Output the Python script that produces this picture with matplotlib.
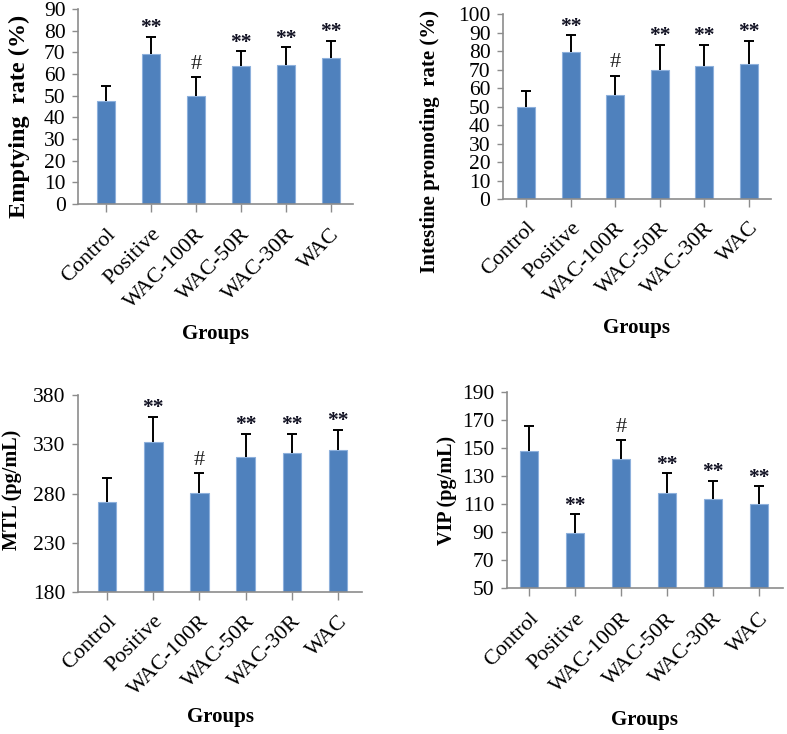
import matplotlib
matplotlib.use("Agg")
import matplotlib.pyplot as plt

plt.rcParams['font.family'] = ['Liberation Serif', 'DejaVu Serif']

categories = ["Control", "Positive", "WAC-100R", "WAC-50R", "WAC-30R", "WAC"]

emptying_mean = [47.7, 69.2, 49.7, 63.5, 64.2, 67.3]
emptying_sd = [6.9, 8.1, 8.7, 6.9, 8.1, 8.1]
emptying_sig = ["", "**", "#", "**", "**", "**"]
emptying_ticks = [0, 10, 20, 30, 40, 50, 60, 70, 80, 90]

intestine_mean = [49.6, 79.4, 56.1, 70.0, 72.2, 72.9]
intestine_sd = [8.7, 9.4, 10.7, 13.5, 11.3, 12.8]
intestine_sig = ["", "**", "#", "**", "**", "**"]
intestine_ticks = [0, 10, 20, 30, 40, 50, 60, 70, 80, 90, 100]

mtl_mean = [271.3, 332.7, 281.0, 317.5, 321.6, 324.3]
mtl_sd = [24.3, 25.3, 19.7, 23.0, 18.9, 20.3]
mtl_sig = ["", "**", "#", "**", "**", "**"]
mtl_ticks = [180, 230, 280, 330, 380]

vip_mean = [147.7, 89.6, 141.8, 118.0, 113.3, 110.2]
vip_sd = [17.8, 13.3, 13.5, 14.0, 13.3, 12.6]
vip_sig = ["", "**", "#", "**", "**", "**"]
vip_ticks = [50, 70, 90, 110, 130, 150, 170, 190]

W, H = 787, 734
fig = plt.figure(figsize=(W / 100, H / 100), dpi=100)

BAR = '#4F81BD'
EDGE = '#8DB0DC'
SPINE = '#8C8C8C'


def panel(px_left, px_right, px_bottom, px_top, xlim, means, sds, sigs, ticks,
          ylabel, ylabel_size, ylab_xy, glab_y, xpad):
    ax = fig.add_axes([px_left / W, 1 - px_bottom / H,
                       (px_right - px_left) / W, (px_bottom - px_top) / H])
    x = list(range(len(categories)))
    base = ticks[0]
    ax.bar(x, [m - base for m in means], bottom=base, width=0.4, color=BAR,
           edgecolor=EDGE, linewidth=0.8, zorder=2)
    eb = ax.errorbar(x, means, yerr=[[0] * len(sds), sds], fmt='none',
                     ecolor='black', elinewidth=1.4, capsize=3.3, capthick=1.4, zorder=3)
    caps = eb[1]
    if len(caps) > 1:
        caps[0].set_visible(False)
    for xi, m, s, g in zip(x, means, sds, sigs):
        if not g:
            continue
        if g == "**":
            ax.annotate(g, (xi, m + s), xytext=(0, 2.5), textcoords='offset points',
                        ha='center', va='baseline', fontsize=15.5, fontweight='bold',
                        color='#111122')
        else:
            ax.annotate(g, (xi, m + s), xytext=(0, 6), textcoords='offset points',
                        ha='center', va='baseline', fontsize=16, color='#222222')
    ax.set_xlim(*xlim)
    ax.set_ylim(ticks[0], ticks[-1])
    ax.set_yticks(ticks)
    ax.set_xticks(x)
    ax.set_xticklabels(categories, rotation=45, ha='right', va='top',
                       rotation_mode='anchor', fontsize=16)
    ax.tick_params(axis='y', labelsize=15.5, length=4, width=1, color=SPINE, pad=5)
    ax.tick_params(axis='x', length=6, width=1, color=SPINE, pad=xpad)
    for sp in ('top', 'right'):
        ax.spines[sp].set_visible(False)
    for sp in ('left', 'bottom'):
        ax.spines[sp].set_color(SPINE)
        ax.spines[sp].set_linewidth(1.2)
    ax.set_ylabel(ylabel, fontsize=ylabel_size, fontweight='bold')
    ax.yaxis.set_label_coords(*ylab_xy)
    ax.yaxis.label.set_va('center')
    ax.set_xlabel("Groups", fontsize=15, fontweight='bold')
    ax.xaxis.set_label_coords(0.5, glab_y)
    ax.xaxis.label.set_va('center')
    return ax


panel(78, 353, 204, 9, (-0.62, 5.5), emptying_mean, emptying_sd, emptying_sig,
      emptying_ticks, "Emptying  rate (%)", 17.5, (-0.213, 0.45), -0.665, 9)
panel(503, 771, 199, 14.3, (-0.52, 5.5), intestine_mean, intestine_sd, intestine_sig,
      intestine_ticks, "Intestine promoting  rate (%)", 15, (-0.272, 0.314), -0.70, 8)
panel(78, 362, 592.3, 395, (-0.63, 5.52), mtl_mean, mtl_sd, mtl_sig,
      mtl_ticks, "MTL (pg/mL)", 14.5, (-0.232, 0.518), -0.632, 8)
panel(506.7, 782.7, 588.3, 391.7, (-0.49, 5.52), vip_mean, vip_sd, vip_sig,
      vip_ticks, "VIP (pg/mL)", 14.5, (-0.217, 0.496), -0.67, 9)

fig.savefig("out.png", dpi=100)
